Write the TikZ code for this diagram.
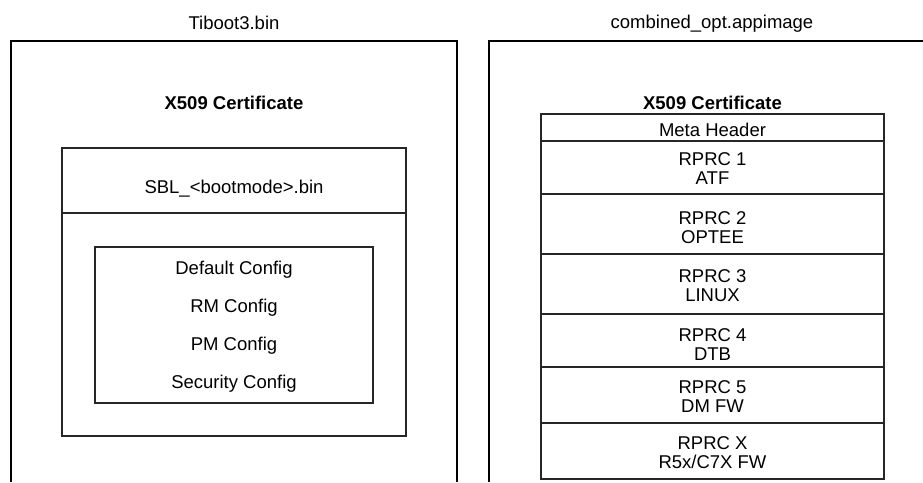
\documentclass[tikz,border=0pt]{standalone}
\usepackage{fontspec}
\setmainfont{Liberation Sans}
\begin{document}
\begin{tikzpicture}[x=1pt,y=-1pt,
  outer/.style={line width=2pt, draw=black},
  box/.style={draw=black!85, line width=1.1pt, inner sep=0pt, outer sep=0pt, rectangle},
  sep/.style={draw=black!85, line width=1.1pt},
  lbl/.style={anchor=base, inner sep=0pt, font=\fontsize{18.5}{19}\selectfont},
  ttl/.style={anchor=base, inner sep=0pt, font=\fontsize{18.5}{19}\selectfont\bfseries},
]
\useasboundingbox (0,0) rectangle (923,482);

% ---------- left: Tiboot3.bin ----------
\node[lbl] (t1) at (234,29) {Tiboot3.bin};
\draw[outer] (11,482) -- (11,41) -- (457,41) -- (457,482);
\node[ttl] (x1) at (234,109) {X509 Certificate};

\node[box, minimum width=344pt, minimum height=288pt] (sbl) at (234,292) {};
\draw[sep] (sbl.west |- 0,213) -- (sbl.east |- 0,213);
\node[lbl] (sbltxt) at (234,193.3) {SBL\_<bootmode>.bin};

\node[box, minimum width=278pt, minimum height=156pt] (cfg) at (234,325) {};
\node[lbl] (c1) at (234,274) {Default Config};
\node[lbl] (c2) at (234,312.3) {RM Config};
\node[lbl] (c3) at (234,350.5) {PM Config};
\node[lbl] (c4) at (234,388.5) {Security Config};

% ---------- right: combined_opt.appimage ----------
\node[lbl] (t2) at (712,28.5) {combined\_opt.appimage};
\draw[outer] (489,482) -- (489,41) -- (923,41);
\node[ttl] (x2) at (712.5,109.3) {X509 Certificate};

\node[box, minimum width=343pt, minimum height=27pt] (meta) at (712.5,127.5) {};
\node[box, minimum width=343pt, minimum height=53pt] (r1) at (712.5,167.5) {};
\node[box, minimum width=343pt, minimum height=60pt] (r2) at (712.5,224) {};
\node[box, minimum width=343pt, minimum height=60pt] (r3) at (712.5,284) {};
\node[box, minimum width=343pt, minimum height=53pt] (r4) at (712.5,340.5) {};
\node[box, minimum width=343pt, minimum height=56pt] (r5) at (712.5,395) {};
\node[box, minimum width=343pt, minimum height=56pt] (r6) at (712.5,451) {};

\node[lbl] (mt) at (712.5,136.7) {Meta Header};
\node[lbl] (r1a) at (712.5,165) {RPRC 1};
\node[lbl] (r1b) at (712.5,184) {ATF};
\node[lbl] (r2a) at (712.5,224) {RPRC 2};
\node[lbl] (r2b) at (712.5,243.3) {OPTEE};
\node[lbl] (r3a) at (712.5,282.7) {RPRC 3};
\node[lbl] (r3b) at (712.5,301.7) {LINUX};
\node[lbl] (r4a) at (712.5,341) {RPRC 4};
\node[lbl] (r4b) at (712.5,360) {DTB};
\node[lbl] (r5a) at (712.5,393.3) {RPRC 5};
\node[lbl] (r5b) at (712.5,412.3) {DM FW};
\node[lbl] (r6a) at (712.5,449.3) {RPRC X};
\node[lbl] (r6b) at (712.5,468.3) {R5x/C7X FW};
\end{tikzpicture}
\end{document}
